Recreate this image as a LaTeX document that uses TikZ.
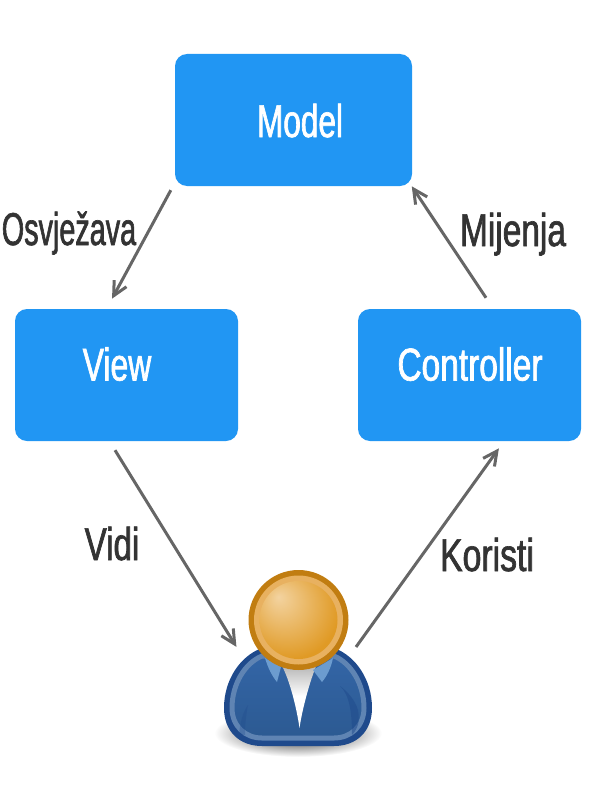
\documentclass[tikz,border=0pt]{standalone}
\usepackage{fontspec}
\setmainfont[FakeStretch=0.68,FakeBold=1.4]{Liberation Sans}
\usetikzlibrary{calc,shadings}
\definecolor{boxblue}{HTML}{2196F3}
\definecolor{linegrey}{HTML}{666666}
\definecolor{labelgrey}{HTML}{333333}
\definecolor{headring}{HTML}{C17D11}
\definecolor{headband}{HTML}{E8B160}
\definecolor{headmid}{HTML}{E09A25}
\definecolor{headlight}{HTML}{F3D3A0}
\definecolor{bodydark}{HTML}{1F4A8C}
\definecolor{bodyblue}{HTML}{3365A6}
\definecolor{bodylow}{HTML}{2C5A92}
\definecolor{bodyband}{HTML}{5F84B3}
\definecolor{collar}{HTML}{6C9CCF}
\pgfdeclareradialshading{headshade}{\pgfpoint{-13pt}{15pt}}{color(0pt)=(headlight);color(32pt)=(headmid);color(60pt)=(headmid)}
\pgfdeclareradialshading{floorshade}{\pgfpointorigin}{color(0pt)=(black!55);color(12pt)=(black!45);color(25pt)=(white);color(50pt)=(white)}
\pgfarrowsdeclare{chev}{chev}
 {\pgfarrowsleftextend{-14pt}\pgfarrowsrightextend{3.5pt}}
 {\pgfsetlinewidth{3pt}\pgfsetdash{}{0pt}\pgfsetbuttcap\pgfsetmiterjoin
  \pgfpathmoveto{\pgfpoint{-14pt}{7pt}}\pgfpathlineto{\pgfpointorigin}\pgfpathlineto{\pgfpoint{-14pt}{-7pt}}\pgfusepathqstroke}
\tikzset{
  box/.style={draw=none,fill=boxblue,rounded corners=12pt,inner sep=0pt},
  boxtext/.style={text=white,font=\fontsize{46}{46}\selectfont,inner sep=0pt,anchor=base},
  lbl/.style={text=labelgrey,font=\fontsize{46}{46}\selectfont,inner sep=0pt,anchor=base},
  conn/.style={draw=linegrey,line width=3pt,-chev},
}
\begin{document}
\begin{tikzpicture}[x=1pt,y=-1pt]
\useasboundingbox (0,0) rectangle (600,800);
% shadow under figure
\shade[shading=floorshade] (298,733) ellipse [x radius=84,y radius=24];
% body
\path[fill=bodydark] (262,648) .. controls (240,656) and (224,680) .. (224,708)
  .. controls (224,732) and (240,746) .. (262,746) -- (334,746)
  .. controls (356,746) and (372,732) .. (372,708)
  .. controls (372,680) and (356,656) .. (334,648) -- cycle;
\path[top color=bodyblue,bottom color=bodylow,draw=bodyband,line width=5pt]
  (262,656) .. controls (245,663) and (232,684) .. (232,708)
  .. controls (232,726) and (245,738) .. (262,738) -- (334,738)
  .. controls (351,738) and (364,726) .. (364,708)
  .. controls (364,684) and (351,663) .. (334,656) -- cycle;
\path[fill=bodydark,opacity=.5] (340,686) .. controls (350,695) and (352,715) .. (352,735)
  .. controls (358,728) and (360,722) .. (358,710) .. controls (355,700) and (348,692) .. (340,686) -- cycle;
\path[fill=bodydark,opacity=.3] (239,735) .. controls (240,722) and (243,712) .. (248,705)
  .. controls (246,715) and (245,726) .. (245,735) -- cycle;
% shirt and collar
\path[top color=black!30,bottom color=white,middle color=white] (281,664) -- (317,664)
  .. controls (310,680) and (302,710) .. (299.5,728)
  .. controls (297,710) and (290,680) .. (281,664) -- cycle;
\path[fill=collar] (265,658) -- (281,667) -- (277,682) .. controls (272,676) and (268,668) .. (265,658) -- cycle;
\path[fill=collar] (333,658) -- (313,670) -- (322,682) .. controls (327,676) and (331,668) .. (333,658) -- cycle;
% head
\node[circle,minimum size=100pt,inner sep=0pt,fill=headring] (user) at (298.5,620) {};
\path[fill=headband] (user.center) circle [radius=44.5];
\path[shading=headshade] (user.center) circle [radius=39];
% boxes
\node[box,minimum width=237pt,minimum height=132pt] (model) at (293.5,120) {};
\node[box,minimum width=223pt,minimum height=132pt] (view) at (126.5,375) {};
\node[box,minimum width=223pt,minimum height=132pt] (controller) at (469.5,375) {};
\node[boxtext] (modeltext) at (300,137) {\scalebox{1.01}[1]{Model}};
\node[boxtext] (viewtext) at (117,380.5) {\scalebox{1.02}[1]{View}};
\node[boxtext] (controllertext) at (470,380.5) {\scalebox{1.07}[1]{Controller}};
% labels
\node[lbl] (osvjezava) at (69,245) {\scalebox{.92}[1]{Osvježava}};
\node[lbl] (mijenja) at (513,246) {\scalebox{1.07}[1]{Mijenja}};
\node[lbl] (vidi) at (112,560) {\scalebox{1.06}[1]{Vidi}};
\node[lbl] (koristi) at (487,571) {\scalebox{1.08}[1]{Koristi}};
% connectors
\draw[conn] ($(model.south west)+(-4,4)$) -- ($(view.north)+(-14.5,-10)$);
\draw[conn] ($(controller.north)+(16.5,-11)$) -- ($(model.south east)+(-0.5,0)$);
\draw[conn] ($(view.south)+(-11.5,9)$) -- ($(user.center)+(-62,27)$);
\draw[conn] ($(user.center)+(57.5,27)$) -- ($(controller.south)+(29.5,7)$);
\end{tikzpicture}
\end{document}
